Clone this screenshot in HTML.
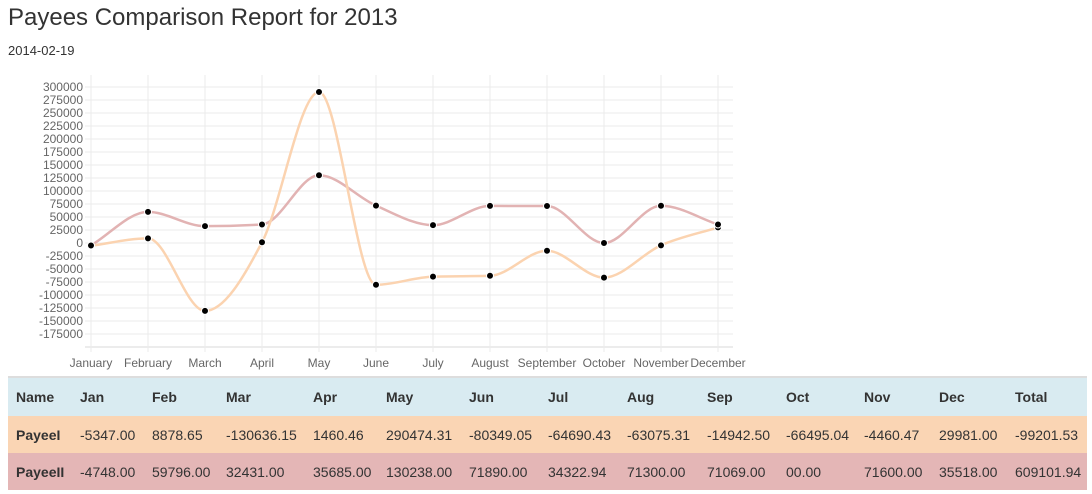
<!DOCTYPE html>
<html><head><meta charset="utf-8"><style>
body{margin:0;width:1092px;height:494px;background:#fff;font-family:"Liberation Sans",sans-serif;color:#333;overflow:hidden;position:relative}
h1{position:absolute;left:8px;top:4px;margin:0;font-size:24px;font-weight:normal;color:#333}
.date{position:absolute;left:8px;top:43px;font-size:13px}
svg{position:absolute;left:0;top:0}
table{position:absolute;left:8px;top:376px;width:1079px;border-collapse:collapse;font-size:14px;border-top:2px solid #ddd}
td,th{text-align:left;padding:0 0 0 8px;height:37px;white-space:nowrap}
th{font-weight:bold;background:#d9ebf1;height:38px}
tr.a td{background:#fad5b4}
tr.b td{background:#e4b6b6}
td:first-child{font-weight:bold}
</style></head><body>
<h1>Payees Comparison Report for 2013</h1>
<div class="date">2014-02-19</div>
<svg id="c" width="1092" height="494" xmlns="http://www.w3.org/2000/svg"></svg>
<table>
<tr><th style="width:56px">Name</th><th style="width:64px">Jan</th><th style="width:66px">Feb</th><th style="width:79px">Mar</th><th style="width:65px">Apr</th><th style="width:75px">May</th><th style="width:71px">Jun</th><th style="width:71px">Jul</th><th style="width:72px">Aug</th><th style="width:71px">Sep</th><th style="width:70px">Oct</th><th style="width:67px">Nov</th><th style="width:68px">Dec</th><th>Total</th></tr>
<tr class="a"><td>PayeeI</td><td>-5347.00</td><td>8878.65</td><td>-130636.15</td><td>1460.46</td><td>290474.31</td><td>-80349.05</td><td>-64690.43</td><td>-63075.31</td><td>-14942.50</td><td>-66495.04</td><td>-4460.47</td><td>29981.00</td><td>-99201.53</td></tr>
<tr class="b"><td>PayeeII</td><td>-4748.00</td><td>59796.00</td><td>32431.00</td><td>35685.00</td><td>130238.00</td><td>71890.00</td><td>34322.94</td><td>71300.00</td><td>71069.00</td><td>00.00</td><td>71600.00</td><td>35518.00</td><td>609101.94</td></tr>
</table>
<script>
var s=document.getElementById('c'),h='';
function Y(v){return 243-v*13/25000;}
var xs=[];for(var i=0;i<12;i++)xs.push(91+57*i);
for(var v=-200000;v<=300000;v+=25000){var y=Y(v);h+='<line x1="85" x2="733" y1="'+y+'" y2="'+y+'" stroke="'+(v==-200000?'#e6e6e6':'#f2f2f2')+'" stroke-width="1.5"/>';
if(v>-200000)h+='<text x="83" y="'+(y+4)+'" text-anchor="end" font-size="12" fill="#666" font-family="Liberation Sans">'+v+'</text>';}
var m=['January','February','March','April','May','June','July','August','September','October','November','December'];
for(i=0;i<12;i++){h+='<line x1="'+xs[i]+'" x2="'+xs[i]+'" y1="75" y2="352" stroke="#ebebeb"/>';
h+='<text x="'+xs[i]+'" y="367" text-anchor="middle" font-size="12" fill="#666" font-family="Liberation Sans">'+m[i]+'</text>';}
function path(d,c){var p=d.map(function(v,i){return[xs[i],Y(v)]});var n=p.length,dx=57;
var sl=[];for(i=0;i<n-1;i++)sl.push((p[i+1][1]-p[i][1])/dx);
var t=[];for(i=0;i<n;i++){if(i==0)t.push(sl[0]);else if(i==n-1)t.push(sl[n-2]);else{var a=sl[i-1],b=sl[i];
if(a*b<=0)t.push(0);else{var q=(a+b)/2;t.push((a>0?1:-1)*Math.min(Math.abs(q),2*Math.abs(a),2*Math.abs(b)));}}}
var str='M'+p[0][0]+' '+p[0][1];
for(i=1;i<n;i++){str+=' C'+(p[i-1][0]+dx/3)+' '+(p[i-1][1]+t[i-1]*dx/3)+' '+(p[i][0]-dx/3)+' '+(p[i][1]-t[i]*dx/3)+' '+p[i][0]+' '+p[i][1];}
h+='<path d="'+str+'" fill="none" stroke="'+c+'" stroke-width="2.5"/>';return p;}
var A=[-5347,8878.65,-130636.15,1460.46,290474.31,-80349.05,-64690.43,-63075.31,-14942.5,-66495.04,-4460.47,29981];
var B=[-4748,59796,32431,35685,130238,71890,34322.94,71300,71069,0,71600,35518];
var pb=path(B,'#e2b3b3'),pa=path(A,'#fbd3b0');
pa.concat(pb).forEach(function(p){h+='<circle cx="'+p[0]+'" cy="'+p[1]+'" r="3.5" fill="#000" stroke="#fff" stroke-width="1"/>';});
s.innerHTML=h;
</script>
</body></html>
